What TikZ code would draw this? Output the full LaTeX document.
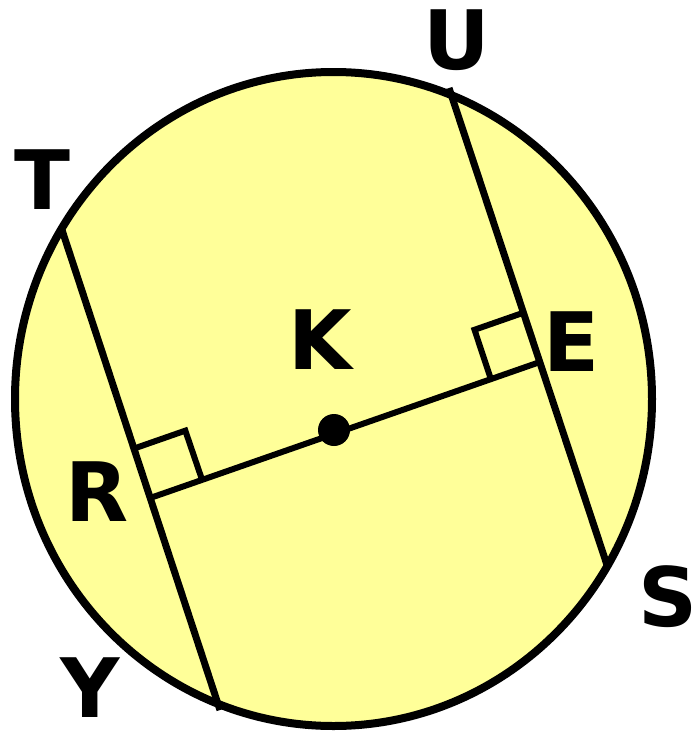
\documentclass[tikz,border=0pt]{standalone}
\usepackage{fontspec}
\setsansfont{DejaVu Sans}
\usetikzlibrary{calc}
\definecolor{crdFill}{HTML}{FFFF99}
\definecolor{crdInk}{HTML}{000000}
\tikzset{
  crd circle/.style={draw=crdInk, fill=crdFill, line width=8pt},
  crd chord/.style={draw=crdInk, line width=7pt},
  crd radius/.style={draw=crdInk, line width=6pt},
  crd mark/.style={draw=crdInk, line width=6pt, line join=miter},
  crd label/.style={font=\sffamily\bfseries\fontsize{82}{82}\selectfont, text=crdInk, inner sep=0pt},
}
\begin{document}
\begin{tikzpicture}[x=1pt,y=-1pt]
  \useasboundingbox (0,0) rectangle (696,731);
  \draw[crd circle] (333.5,399) ellipse [x radius=318.5pt, y radius=327pt];
  % end points of the chords
  \coordinate (T) at (62,230);
  \coordinate (Y) at (220,710);
  \coordinate (U) at (449,88);
  \coordinate (S) at (608,568);
  \coordinate (R) at (153,497);
  \coordinate (E) at (540,362);
  \coordinate (K) at (334,430);
  \draw[crd chord] (T) -- (Y);
  \draw[crd chord] (U) -- (S);
  \draw[crd radius] (R) -- (E);
  % right angle marks
  \coordinate (Ra) at ($(R)!52pt!(E)$);
  \coordinate (Rb) at ($(R)!52pt!(T)$);
  \draw[crd mark] (Rb) -- ($(Ra)+(Rb)-(R)$) -- (Ra);
  \coordinate (Ea) at ($(E)!52pt!(R)$);
  \coordinate (Eb) at ($(E)!52pt!(U)$);
  \draw[crd mark] (Eb) -- ($(Ea)+(Eb)-(E)$) -- (Ea);
  \fill[crdInk] (K) circle (16pt);
  \node[crd label] (lU) at (457,40) {U};
  \node[crd label] (lT) at (42,180) {T};
  \node[crd label] (lK) at (320,340) {K};
  \node[crd label] (lE) at (572,342) {E};
  \node[crd label] (lR) at (97,492) {R};
  \node[crd label] (lS) at (668,597) {S};
  \node[crd label] (lY) at (90,688) {Y};
\end{tikzpicture}
\end{document}
